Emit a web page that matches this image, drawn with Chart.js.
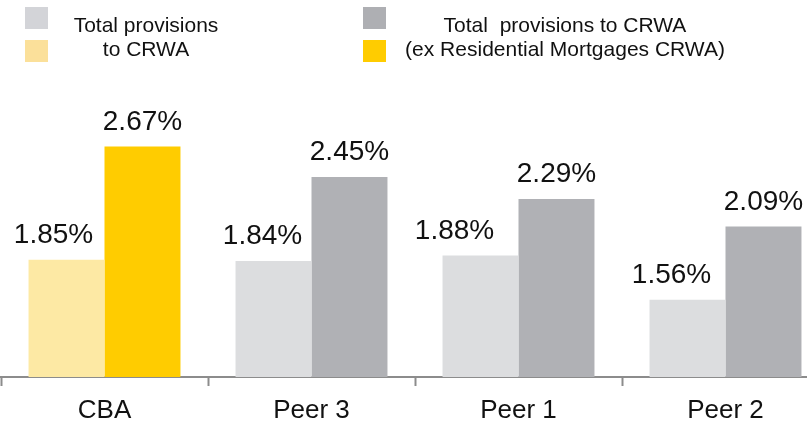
<!DOCTYPE html>
<html>
<head>
<meta charset="utf-8">
<script src="https://cdn.jsdelivr.net/npm/chart.js@4.4.0/dist/chart.umd.min.js"></script>
<style>
  html, body { margin: 0; padding: 0; background: #fff; overflow: hidden; width: 807px; height: 422px; }
  #wrap { position: relative; width: 807px; height: 422px; overflow: hidden; }
  canvas { position: absolute; left: 0; top: 0; }
  .sw { position: absolute; width: 23px; height: 22px; }
  .lg { position: absolute; font-family: "Liberation Sans", Arial, sans-serif; font-size: 21px; line-height: 24px;
        color: #111; text-align: center; white-space: pre; }
</style>
</head>
<body>
<div id="wrap">
  <canvas id="c" width="829" height="422"></canvas>
  <div class="sw" style="left:25px; top:7px; background:#d3d4d8;"></div>
  <div class="sw" style="left:25px; top:40px; background:#fbe09a;"></div>
  <div class="sw" style="left:363px; top:7px; background:#aeafb3;"></div>
  <div class="sw" style="left:363px; top:40px; background:#ffcc00;"></div>
  <div class="lg" id="lg1" style="left:46px; top:13px; width:200px;"></div>
  <div class="lg" id="lg2" style="left:365px; top:13px; width:400px;"></div>
</div>
<script>
// ---- data ----
const categories = ["CBA", "Peer 3", "Peer 1", "Peer 2"];
const totalProvisions = [1.85, 1.84, 1.88, 1.56];
const exMortgages = [2.67, 2.45, 2.29, 2.09];
const legendLeft = ["Total provisions", "to CRWA"];
const legendRight = ["Total  provisions to CRWA", "(ex Residential Mortgages CRWA)"];

// ---- styles ----
const lightColors = ["#fde9a4", "#dcdddf", "#dcdddf", "#dcdddf"];
const darkColors = ["#ffcc00", "#b0b1b5", "#b0b1b5", "#b0b1b5"];
const lightLabelShift = [-13, -11, -26, -16];
const axisColor = "#8c8c8c";
const fontFamily = '"Liberation Sans", Arial, sans-serif';

document.getElementById("lg1").textContent = legendLeft.join("\n");
document.getElementById("lg2").textContent = legendRight.join("\n");

const valueLabels = {
  id: "valueLabels",
  afterDatasetsDraw(chart, args, opts) {
    const ctx = chart.ctx;
    ctx.save();
    ctx.font = opts.font;
    ctx.fillStyle = opts.color;
    ctx.textAlign = "center";
    ctx.textBaseline = "alphabetic";
    chart.data.datasets.forEach((ds, di) => {
      const meta = chart.getDatasetMeta(di);
      meta.data.forEach((bar, i) => {
        const shift = (opts.shiftX[di] || [])[i] || 0;
        ctx.fillText(ds.data[i].toFixed(2) + "%", bar.x + shift, bar.y - opts.gap);
      });
    });
    ctx.restore();
  }
};

new Chart(document.getElementById("c"), {
  type: "bar",
  data: {
    labels: categories,
    datasets: [
      { label: legendLeft.join(" "), data: totalProvisions, backgroundColor: lightColors,
        categoryPercentage: 0.734, barPercentage: 1.0, borderWidth: 0 },
      { label: legendRight.join(" "), data: exMortgages, backgroundColor: darkColors,
        categoryPercentage: 0.734, barPercentage: 1.0, borderWidth: 0 }
    ]
  },
  options: {
    responsive: false,
    animation: false,
    devicePixelRatio: 1,
    layout: { padding: { top: 101, left: 1, right: 0, bottom: 0 } },
    plugins: {
      legend: { display: false },
      tooltip: { enabled: false },
      valueLabels: { font: "28px " + fontFamily, color: "#111", gap: 17, shiftX: [lightLabelShift, []] }
    },
    scales: {
      x: {
        grid: { display: true, drawOnChartArea: false, drawTicks: true, tickLength: 9,
                tickWidth: 2, tickColor: axisColor, offset: true },
        border: { display: true, color: axisColor, width: 2 },
        ticks: { color: "#111", padding: 9, font: { family: fontFamily, size: 26 } },
        afterFit(axis) { axis.height = 45; }
      },
      y: { display: false, min: 1.0, max: 3.0 }
    }
  },
  plugins: [valueLabels]
});
</script>
</body>
</html>
